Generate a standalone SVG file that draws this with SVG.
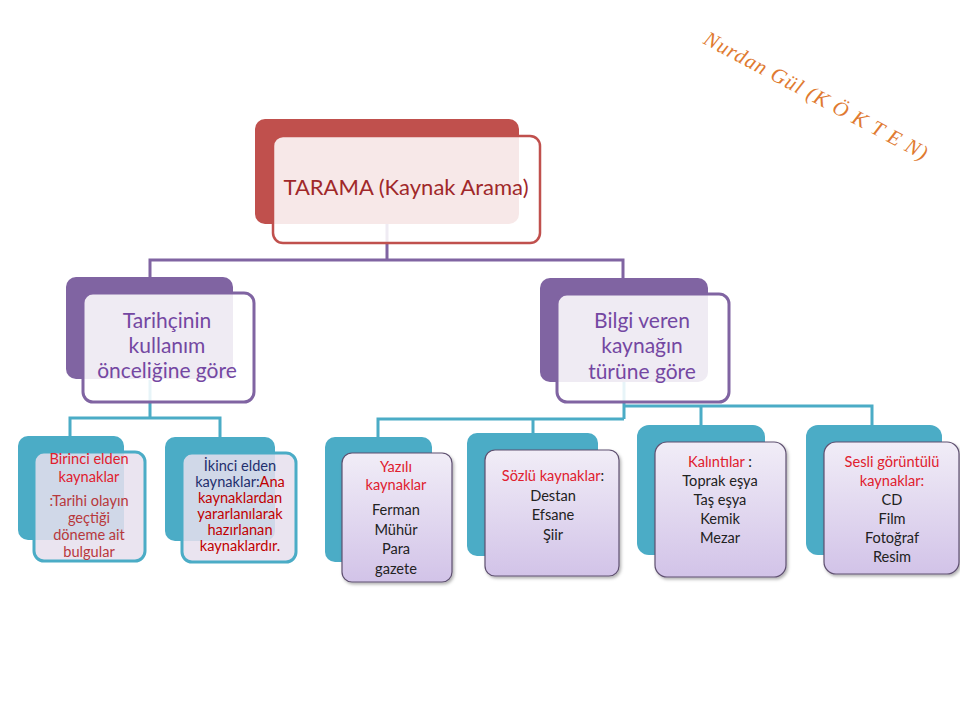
<svg xmlns="http://www.w3.org/2000/svg" width="960" height="720" viewBox="0 0 960 720">
<style>
text{font-family:Lato,"Open Sans","Liberation Sans",sans-serif;text-anchor:middle}
.c1{fill:none;stroke:#8064A2;stroke-width:3}
.c2{fill:none;stroke:#4BACC6;stroke-width:3}
.backR{fill:#C0504D}
.backP{fill:#8064A2}
.backT{fill:#4BACC6}
.frontR{fill:#fff;fill-opacity:0.87;stroke:#C0504D;stroke-width:2.5}
.frontP{fill:#fff;fill-opacity:0.87;stroke:#8064A2;stroke-width:3}
.frontT{fill:#E6E0EE;fill-opacity:0.86;stroke:#4BACC6;stroke-width:3}
.frontG{fill:url(#lav);stroke:#5E5070;stroke-width:1.2;filter:url(#sh)}
.t1{font-size:22px;fill:#A0282A}
.t2{font-size:21px;fill:#7447A2}
.t3{font-size:14.6px}
.red{fill:#E0202E}
.dred{fill:#B8383C}
.navy{fill:#1F2F6E}
.blk{fill:#222}
</style>
<defs>
<linearGradient id="lav" x1="0" y1="0" x2="0" y2="1">
<stop offset="0" stop-color="#F1EDF7"/>
<stop offset="1" stop-color="#D2C3E8"/>
</linearGradient>
<filter id="sh" x="-10%" y="-10%" width="130%" height="130%">
<feDropShadow dx="1.5" dy="2" stdDeviation="1.5" flood-color="#000" flood-opacity="0.3"/>
</filter>
</defs>
<rect width="960" height="720" fill="#fff"/>

<text transform="translate(813,102) rotate(28)" style="font-family:'Liberation Serif',serif;font-style:italic;font-size:21px;fill:#E07A30;letter-spacing:1px">Nurdan Gül (K Ö K T E N)</text>

<g id="connectors">
<path class="c1" d="M387,224 V260 M150,277 V260 H623 V278"/>
<path class="c2" d="M150,380 V418 M70,436 V418 H220 V437"/>
<path class="c2" d="M624,382 V419 M378,437 V419 H624 M533,433 V419 M624,406 H872 V425 M701,406 V425"/>
</g>

<g id="root">
<rect class="backR" x="255" y="119" width="264" height="105" rx="10"/>
<rect class="frontR" x="273" y="136" width="267" height="107" rx="10"/>
<text class="t1" x="406" y="195">TARAMA (Kaynak Arama)</text>
</g>

<g id="n-tarihci">
<rect class="backP" x="66" y="277" width="167" height="102" rx="10"/>
<rect class="frontP" x="83" y="293" width="171" height="109" rx="10"/>
<text class="t2" x="167" y="328">Tarihçinin</text>
<text class="t2" x="167" y="353">kullanım</text>
<text class="t2" x="167" y="378">önceliğine göre</text>
</g>

<g id="n-bilgi">
<rect class="backP" x="540" y="278" width="168" height="104" rx="10"/>
<rect class="frontP" x="557" y="294" width="172" height="108" rx="10"/>
<text class="t2" x="642" y="328">Bilgi veren</text>
<text class="t2" x="642" y="353">kaynağın</text>
<text class="t2" x="642" y="379">türüne göre</text>
</g>

<g id="n-birinci">
<rect class="backT" x="18" y="436" width="106" height="104" rx="10"/>
<rect class="frontT" x="34" y="452" width="111" height="109" rx="10"/>
<text class="t3 red" x="89" y="464">Birinci elden</text>
<text class="t3 red" x="89" y="482">kaynaklar</text>
<text class="t3 dred" x="89" y="506">:Tarihi olayın</text>
<text class="t3 dred" x="89" y="523">geçtiği</text>
<text class="t3 dred" x="89" y="540">döneme ait</text>
<text class="t3 dred" x="89" y="557">bulgular</text>
</g>

<g id="n-ikinci">
<rect class="backT" x="165" y="437" width="110" height="104" rx="10"/>
<rect class="frontT" x="182" y="453" width="114" height="109" rx="10"/>
<text class="t3 navy" x="240" y="471">İkinci elden</text>
<text class="t3" x="240" y="487"><tspan class="navy">kaynaklar:</tspan><tspan fill="#C00000">Ana</tspan></text>
<text class="t3" x="240" y="503" fill="#C00000">kaynaklardan</text>
<text class="t3" x="240" y="519" fill="#C00000">yararlanılarak</text>
<text class="t3" x="240" y="535" fill="#C00000">hazırlanan</text>
<text class="t3" x="240" y="551" fill="#C00000">kaynaklardır.</text>
</g>

<g id="n-yazili">
<rect class="backT" x="325" y="437" width="107" height="125" rx="10"/>
<rect class="frontG" x="342" y="453" width="110" height="129" rx="10"/>
<text class="t3 red" x="396" y="472">Yazılı</text>
<text class="t3 red" x="396" y="490">kaynaklar</text>
<text class="t3 blk" x="396" y="515">Ferman</text>
<text class="t3 blk" x="396" y="535">Mühür</text>
<text class="t3 blk" x="396" y="554">Para</text>
<text class="t3 blk" x="396" y="574">gazete</text>
</g>

<g id="n-sozlu">
<rect class="backT" x="467" y="433" width="131" height="123" rx="10"/>
<rect class="frontG" x="485" y="450" width="134" height="126" rx="10"/>
<text class="t3" x="553" y="481"><tspan class="red">Sözlü kaynaklar</tspan><tspan class="blk">:</tspan></text>
<text class="t3 blk" x="553" y="501">Destan</text>
<text class="t3 blk" x="553" y="520">Efsane</text>
<text class="t3 blk" x="553" y="540">Şiir</text>
</g>

<g id="n-kalinti">
<rect class="backT" x="637" y="425" width="128" height="130" rx="12"/>
<rect class="frontG" x="655" y="442" width="131" height="135" rx="12"/>
<text class="t3" x="720" y="467"><tspan class="red">Kalıntılar</tspan><tspan class="blk"> :</tspan></text>
<text class="t3 blk" x="720" y="486">Toprak eşya</text>
<text class="t3 blk" x="720" y="505">Taş eşya</text>
<text class="t3 blk" x="720" y="524">Kemik</text>
<text class="t3 blk" x="720" y="543">Mezar</text>
</g>

<g id="n-sesli">
<rect class="backT" x="806" y="425" width="136" height="130" rx="12"/>
<rect class="frontG" x="824" y="442" width="135" height="132" rx="12"/>
<text class="t3 red" x="892" y="467">Sesli görüntülü</text>
<text class="t3 red" x="892" y="486">kaynaklar:</text>
<text class="t3 blk" x="892" y="505">CD</text>
<text class="t3 blk" x="892" y="524">Film</text>
<text class="t3 blk" x="892" y="543">Fotoğraf</text>
<text class="t3 blk" x="892" y="562">Resim</text>
</g>
</svg>
